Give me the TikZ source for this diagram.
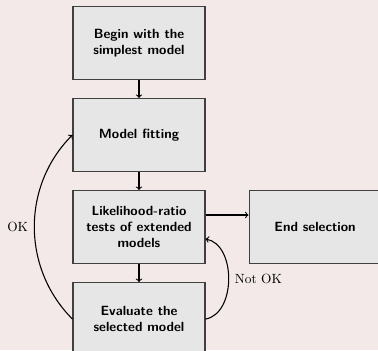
\documentclass[tikz,border=0pt]{standalone}
\usepackage{tikz}
\usetikzlibrary{positioning,arrows}
\definecolor{bgpink}{HTML}{F3E9E9}
\definecolor{boxgray}{HTML}{E6E6E6}

\begin{document}
\begin{tikzpicture}[font=\sffamily\bfseries, >=to,
    stepbox/.style={draw=black!75, fill=boxgray, line width=0.8pt, minimum width=99pt, minimum height=54.75pt, align=center},
    link/.style={->, line width=0.8pt},
    answer/.style={font=\rmfamily\mdseries},
    node distance=13.5pt and 32.25pt]
\path[use as bounding box] (-104.25pt,-92.25pt) rectangle (179.25pt,170.25pt);
\clip (-104.25pt,-92.25pt) rectangle (179.25pt,170.25pt);
\fill[bgpink] (-104.25pt,-92.25pt) rectangle (179.25pt,170.25pt);

\node[stepbox] (tests) at (0,0) {Likelihood-ratio\\ tests of extended\\ models};
\node[stepbox, above=of tests] (fit) {Model fitting};
\node[stepbox, above=of fit] (start) {Begin with the\\ simplest model};
\node[stepbox, below=of tests] (eval) {Evaluate the\\ selected model};
\node[stepbox, right=of tests] (end) {End selection};

\draw[link] (start) -- (fit);
\draw[link] (fit) -- (tests);
\draw[link] (tests) -- (eval);
\draw[link] ([yshift=9pt]tests.east) -- ([yshift=9pt]end.west);
\draw[link] (eval.west) to[bend left=45] node[answer, left=1pt] {OK} (fit.west);
\draw[link] (eval.east) to[bend right=80] node[answer, right=1pt] {Not OK} ([yshift=-9pt]tests.east);

\end{tikzpicture}
\end{document}
